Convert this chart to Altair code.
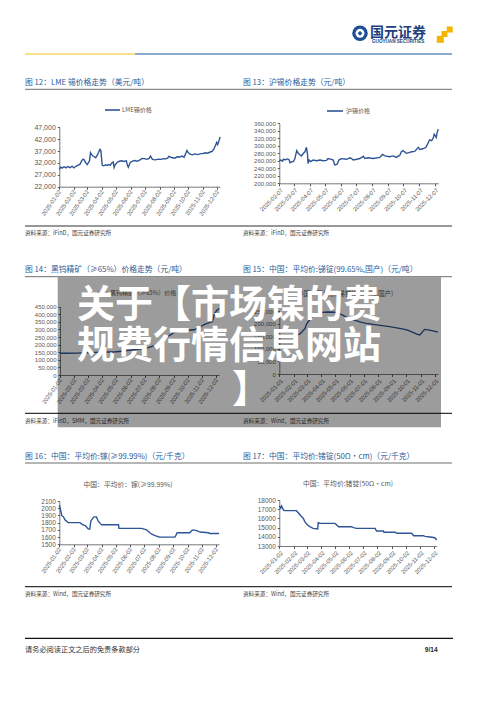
import altair as alt
import pandas as pd

# ---------------- data ----------------
# Fig 12: LME tin (USD/t)
lme_dates = ["2025-01-02","2025-01-05","2025-01-08","2025-01-12","2025-01-16","2025-01-20","2025-01-25","2025-01-29",
             "2025-02-02","2025-02-06","2025-02-10","2025-02-15","2025-02-18","2025-02-21","2025-02-24","2025-02-27",
             "2025-03-02","2025-03-05","2025-03-07","2025-03-09","2025-03-11","2025-03-14","2025-03-17","2025-03-20",
             "2025-03-23","2025-03-26","2025-03-29","2025-03-31","2025-04-02","2025-04-03","2025-04-06","2025-04-10",
             "2025-04-13","2025-04-16","2025-04-20","2025-04-23","2025-04-26","2025-04-28","2025-04-30","2025-05-04",
             "2025-05-09","2025-05-14","2025-05-19","2025-05-24","2025-05-26","2025-05-28","2025-06-01","2025-06-06",
             "2025-06-11","2025-06-16","2025-06-21","2025-06-26","2025-07-01","2025-07-06","2025-07-11","2025-07-14",
             "2025-07-18","2025-07-24","2025-07-31","2025-08-05","2025-08-10","2025-08-15","2025-08-19","2025-08-22",
             "2025-08-27","2025-09-03","2025-09-09","2025-09-14","2025-09-19","2025-09-23","2025-09-26","2025-09-29",
             "2025-10-02","2025-10-06","2025-10-10","2025-10-16","2025-10-22","2025-10-28","2025-11-02","2025-11-07",
             "2025-11-12","2025-11-17","2025-11-21","2025-11-25","2025-11-28","2025-12-01","2025-12-03","2025-12-05",
             "2025-12-07","2025-12-08"]
lme_values = [29300,30300,29800,30400,29900,30500,30000,30600,
              29900,30600,31000,31500,32800,33600,33200,32000,
              31300,32200,33000,36300,35600,35000,34600,34200,
              35200,36400,37700,37200,32500,31000,30800,31200,
              30900,31300,31100,32000,32400,30100,31200,32200,
              32700,32900,32600,32900,31000,30200,32200,32800,
              33000,32700,33200,33900,33800,33500,33900,34900,
              33500,33300,33600,33500,33800,33700,34000,34800,
              34300,34000,34600,34500,34900,34400,35800,37200,
              36300,35700,35400,35800,35500,35900,36000,36300,
              36100,36600,36800,37800,39200,40600,39700,40900,
              42000,43000]

# Fig 13: SHFE tin (CNY/t)
shfe_dates = ["2025-02-07","2025-02-10","2025-02-13","2025-02-15","2025-02-19","2025-02-23","2025-02-26","2025-02-28",
              "2025-03-03","2025-03-06","2025-03-09","2025-03-13","2025-03-16","2025-03-19","2025-03-22","2025-03-26",
              "2025-03-29","2025-04-01","2025-04-03","2025-04-04","2025-04-06","2025-04-09","2025-04-14","2025-04-21",
              "2025-04-27","2025-05-04","2025-05-10","2025-05-13","2025-05-20","2025-05-23","2025-05-26","2025-05-31",
              "2025-06-03","2025-06-08","2025-06-18","2025-06-25","2025-06-28","2025-07-01","2025-07-08","2025-07-14",
              "2025-07-21","2025-07-24","2025-07-30","2025-08-09","2025-08-22","2025-08-27","2025-09-01","2025-09-10",
              "2025-09-17","2025-09-23","2025-09-30","2025-10-03","2025-10-06","2025-10-13","2025-10-18","2025-10-23",
              "2025-10-29","2025-11-05","2025-11-08","2025-11-14","2025-11-20","2025-11-24","2025-11-27","2025-12-01",
              "2025-12-04","2025-12-06","2025-12-08","2025-12-10","2025-12-12","2025-12-14"]
shfe_values = [260400,262000,259000,264000,263000,265000,263000,255000,
               257000,258000,264000,287000,280000,276000,273000,280000,
               284000,296000,277000,253000,262000,258000,262000,260000,
               262000,260000,261000,265800,264000,262000,249000,251000,
               262000,265800,264000,268000,266000,262000,264000,266000,
               272000,266000,268000,266000,269000,277000,273000,271000,
               273000,269000,275000,284000,287000,280000,282000,284000,
               285000,296000,290000,292000,296000,307000,316000,314000,
               320000,331000,327000,322000,337000,344000]

# Fig 14: black tungsten concentrate >=65% (CNY/t)
w_dates = ["2025-01-02","2025-01-16","2025-02-06","2025-02-20","2025-03-06","2025-03-20","2025-04-03","2025-04-17",
           "2025-05-01","2025-05-15","2025-05-29","2025-06-12","2025-06-26","2025-07-10","2025-07-24","2025-08-07",
           "2025-08-21","2025-09-04","2025-09-18","2025-10-02","2025-10-16","2025-10-30","2025-11-06","2025-11-13",
           "2025-11-24","2025-11-28","2025-12-02","2025-12-08"]
w_values = [143000,143500,144000,145500,147000,149000,151000,152000,
            153000,156000,162000,168000,172000,180000,195000,218000,
            255000,282000,290000,295000,298000,318000,332000,340000,
            352000,400000,420000,438000]

# Fig 15: antimony ingot 99.65% (CNY/t)
sb_dates = ["2025-01-01","2025-01-15","2025-02-01","2025-02-15","2025-02-25","2025-03-01","2025-03-10","2025-03-20",
            "2025-04-01","2025-04-15","2025-04-30","2025-05-15","2025-05-25","2025-06-10","2025-06-25","2025-07-07",
            "2025-07-25","2025-08-10","2025-08-26","2025-09-10","2025-09-22","2025-10-02","2025-10-15","2025-10-25",
            "2025-10-30","2025-11-05","2025-11-09","2025-11-20","2025-12-04","2025-12-08"]
sb_values = [145000,147000,150000,160000,180000,200000,222000,238000,
             244000,246000,245000,236000,226000,215000,206000,201000,
             196000,192000,188000,183000,179000,175000,165000,157000,
             155000,168000,177000,174000,168000,166000]

# Fig 16: gallium >=99.99% (CNY/kg)
ga_dates = ["2025-01-02","2025-01-04","2025-01-07","2025-01-11","2025-01-14","2025-01-21","2025-02-15","2025-02-19",
            "2025-02-22","2025-02-26","2025-03-01","2025-03-05","2025-03-08","2025-03-10","2025-03-14","2025-03-17",
            "2025-03-22","2025-03-26","2025-03-30","2025-04-02","2025-05-08","2025-05-09","2025-06-26","2025-07-07",
            "2025-07-10","2025-07-18","2025-07-25","2025-08-01","2025-08-04","2025-09-05","2025-09-07","2025-09-10",
            "2025-10-07","2025-10-11","2025-10-14","2025-10-21","2025-10-29","2025-11-15","2025-11-19","2025-12-08"]
ga_values = [2040,2000,1900,1880,1840,1800,1800,1780,
             1770,1760,1740,1710,1710,1820,1860,1880,
             1880,1820,1790,1770,1770,1720,1720,1700,
             1680,1640,1620,1605,1600,1600,1620,1660,
             1660,1690,1700,1690,1670,1660,1650,1650]

# Fig 17: germanium ingot 50 ohm-cm (CNY/kg)
ge_dates = ["2025-01-02","2025-01-05","2025-01-07","2025-01-11","2025-01-14","2025-02-08","2025-02-12","2025-02-16",
            "2025-02-19","2025-02-23","2025-02-26","2025-03-04","2025-03-09","2025-03-16","2025-03-26","2025-03-27",
            "2025-03-31","2025-05-02","2025-05-04","2025-05-10","2025-06-07","2025-06-11","2025-06-18","2025-07-28",
            "2025-07-31","2025-08-15","2025-08-16","2025-09-09","2025-09-13","2025-10-15","2025-10-19","2025-11-09",
            "2025-11-13","2025-11-24","2025-12-04","2025-12-08"]
ge_values = [17350,17100,17350,16900,16840,16840,16620,16370,
             16200,16000,15650,15280,15100,14920,14850,15540,
             15460,15460,15380,15100,15100,15000,14920,14920,
             14630,14630,14490,14490,14380,14380,14120,14120,
             14050,13980,13900,13650]

ticks_02 = ["2025-%02d-02" % m for m in range(1, 13)]
ticks_07 = ["2025-%02d-07" % m for m in range(2, 13)]
ticks_01 = ["2025-%02d-01" % m for m in range(1, 13)]

# ---------------- layout ----------------
W, H = 484, 690
M = 8  # page margin
LINE = "#2f5597"
TITLE_C = "#2c5b97"
GRAY = "#595959"
CJK = "Noto Sans CJK SC"
LAT = "Liberation Sans"

dummy = pd.DataFrame({"k": [0]})


def dt(s):
    y, m, d = map(int, s.split("-"))
    return alt.DateTime(year=y, month=m, date=d)


def text(t, x, y, size, color="#333", align="left", weight="normal", font=CJK, opacity=1):
    return alt.Chart(dummy).mark_text(
        text=t, align=align, baseline="middle", font=font, fontSize=size,
        color=color, fontWeight=weight, opacity=opacity
    ).encode(x=alt.value(x - M), y=alt.value(y - M))


def hrule(x1, x2, y, color, width=1.0):
    return alt.Chart(dummy).mark_rule(color=color, strokeWidth=width).encode(
        x=alt.value(x1 - M), x2=alt.value(x2 - M), y=alt.value(y - M))


def panel(dates, values, x0, x1, yb, yt, xd, yd, ystep, xt, fmt, ang, yfs):
    df = pd.DataFrame({"date": pd.to_datetime(dates), "value": values})
    yvals = list(range(yd[0], yd[1] + 1, ystep))
    return alt.Chart(df).mark_line(color=LINE, strokeWidth=1.4).encode(
        x=alt.X("date:T",
                scale=alt.Scale(domain=[dt(xd[0]), dt(xd[1])], range=[x0 - M, x1 - M], nice=False),
                axis=alt.Axis(orient="bottom", offset=(yb - M) - H, values=[dt(v) for v in xt],
                              format="%Y-%m-%d", labelAngle=ang, labelFontSize=5.8, labelFont=LAT,
                              labelColor=GRAY, labelOverlap=False, labelFlush=False, labelBound=False,
                              labelPadding=1, tickSize=2.5, tickColor="#555", domainColor="#555",
                              domainWidth=0.8, grid=False, title=None)),
        y=alt.Y("value:Q",
                scale=alt.Scale(domain=list(yd), range=[yb - M, yt - M], nice=False, zero=False),
                axis=alt.Axis(orient="left", offset=-(x0 - M), values=yvals, format=fmt,
                              labelFontSize=yfs, labelFont=LAT, labelColor=GRAY, labelOverlap=False,
                              labelFlush=False, labelBound=False, labelPadding=2, tickSize=2,
                              tickColor="#555", domainColor="#555", domainWidth=0.8, grid=False,
                              title=None)),
    )


layers = []

# header
layers += [
    hrule(25, 135, 54, "#f0c419", 1.2),
    hrule(135, 452, 54, "#1f5aa0", 1.2),
    alt.Chart(dummy).mark_point(filled=True, shape="circle", size=240, color="#1e4e96", opacity=1).encode(
        x=alt.value(360 - M), y=alt.value(33.3 - M)),
    alt.Chart(dummy).mark_point(filled=True, shape="circle", size=80, color="white", opacity=1).encode(
        x=alt.value(360 - M), y=alt.value(33.3 - M)),
    alt.Chart(dummy).mark_point(filled=True, shape="diamond", size=22, color="#1e4e96", opacity=1).encode(
        x=alt.value(360 - M), y=alt.value(33.3 - M)),
    text("国元证券", 370, 32.5, 14, "#1e3f7d", weight="bold"),
    text("GUOYUAN SECURITIES", 372, 41.8, 4.6, "#1e3f7d", weight="bold", font=LAT),
    alt.Chart(dummy).mark_square(filled=True, size=36, color="#f4b400", opacity=1).encode(
        x=alt.value(449.7 - M), y=alt.value(29.5 - M)),
    alt.Chart(dummy).mark_square(filled=True, size=36, color="#f4b400", opacity=1).encode(
        x=alt.value(444.5 - M), y=alt.value(34 - M)),
    alt.Chart(dummy).mark_square(filled=True, size=49, color="#f4b400", opacity=1).encode(
        x=alt.value(440.3 - M), y=alt.value(39.3 - M)),
]

# section titles, rules, sources
rows = [
    (82.7, 89.3, 226.0, 233.0,
     "图 12：LME 锡价格走势（美元/吨）", "图 13：沪锡价格走势（元/吨）",
     "资料来源：iFinD，国元证券研究所", "资料来源：iFinD，国元证券研究所"),
    (269.5, 276.7, 413.3, 420.5,
     "图 14：黑钨精矿（≥65%）价格走势（元/吨）", "图 15：中国：平均价:锑锭(99.65%,国产)（元/吨）",
     "资料来源：iFinD，SMM，国元证券研究所", "资料来源：Wind，国元证券研究所"),
    (456.7, 463.0, 586.7, 593.5,
     "图 16：中国：平均价:镓(≥99.99%)（元/千克）", "图 17：中国：平均价:锗锭(50Ω·cm)（元/千克）",
     "资料来源：Wind，国元证券研究所", "资料来源：Wind，国元证券研究所"),
]
for ty, uy, by, sy, t1, t2, s1, s2 in rows:
    layers += [
        text(t1, 25, ty, 7.8, TITLE_C),
        text(t2, 243, ty, 7.8, TITLE_C),
        hrule(25, 452, uy, "#6e6e6e", 1.0),
        hrule(25, 452, by, "#333333", 1.2),
        text(s1, 25, sy, 5.6, "#444"),
        text(s2, 243, sy, 5.6, "#444"),
    ]

# legends / chart captions
layers += [
    hrule(105, 120, 110, LINE, 1.6),
    text("LME锡价格", 122, 110, 6, GRAY),
    hrule(327, 343, 111, LINE, 1.6),
    text("沪锡价格", 346, 111, 6, GRAY),
    hrule(97, 108, 292.7, LINE, 1.6),
    text("黑钨精矿（≥65%）价格", 110, 292.7, 6, GRAY),
    text("中国：平均价:锑锭(99.65%,国产)", 345, 294, 6.6, GRAY, align="center"),
    text("中国：平均价：镓(≥99.99%)", 128, 485, 6.8, GRAY, align="center"),
    text("中国：平均价:锗锭(50Ω·cm)", 348, 483.5, 6.8, GRAY, align="center"),
]

# the six line panels
layers += [
    panel(lme_dates, lme_values, 59.3, 220, 186.7, 127.3, ("2025-01-02", "2025-12-08"),
          (22000, 47000), 5000, ticks_02, ",.0f", -55, 7),
    panel(shfe_dates, shfe_values, 279.3, 438.3, 183.3, 123.3, ("2025-02-07", "2025-12-14"),
          (200000, 360000), 20000, ticks_07, ",.0f", -45, 6),
    panel(w_dates, w_values, 60, 219, 375, 306.7, ("2025-01-02", "2025-12-08"),
          (0, 450000), 50000, ticks_02, ",.0f", -55, 6),
    panel(sb_dates, sb_values, 279.3, 438, 374, 311, ("2025-01-01", "2025-12-08"),
          (0, 250000), 50000, ticks_01, ",.0f", -45, 6),
    panel(ga_dates, ga_values, 59.3, 219, 544.3, 501, ("2025-01-02", "2025-12-08"),
          (1500, 2100), 100, ticks_02, "d", -55, 6.5),
    panel(ge_dates, ge_values, 279.3, 436.7, 546, 500, ("2025-01-02", "2025-12-08"),
          (13000, 18000), 1000, ticks_02, "d", -45, 6.5),
]

# overlay banner
layers += [
    alt.Chart(dummy).mark_rect(color="#000000", opacity=0.39).encode(
        x=alt.value(57.7 - M), x2=alt.value(441 - M), y=alt.value(277.3 - M), y2=alt.value(427.3 - M)),
    text("关于【市场镍的费", 77, 306, 38, "white", weight="bold"),
    text("规费行情信息网站", 77, 347, 38, "white", weight="bold"),
    text("】", 232, 391, 38, "white", weight="bold"),
]

# footer
layers += [
    hrule(25, 453, 638.3, "#111111", 1.3),
    text("请务必阅读正文之后的免责条款部分", 25, 649.7, 7.2, "#333"),
    text("9/14", 437.5, 649.7, 6.5, "#222", align="right", weight="bold", font=LAT),
]

chart = alt.layer(*layers).resolve_scale(x="independent", y="independent").resolve_axis(
    x="independent", y="independent"
).properties(
    width=W, height=H, padding=0, autosize=alt.AutoSizeParams(type="none"), background="white"
).configure_view(stroke=None)

chart.save("out.html", embed_options={"renderer": "svg", "actions": False})
